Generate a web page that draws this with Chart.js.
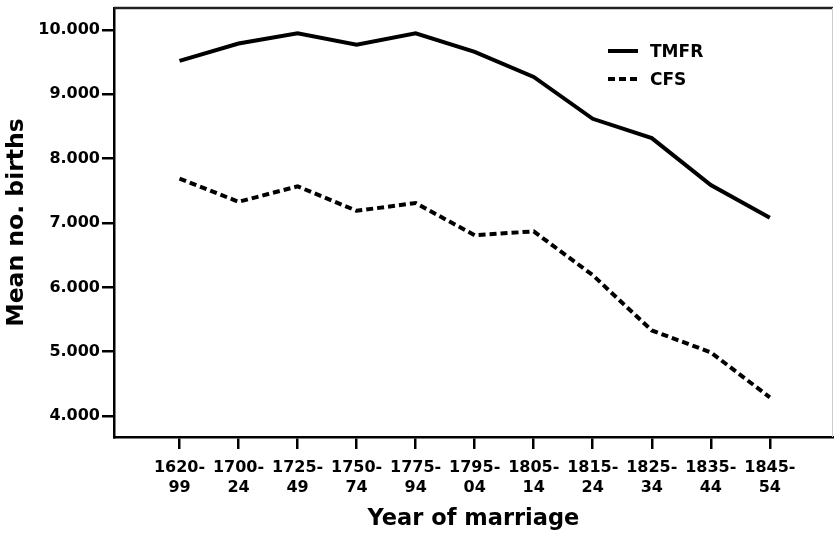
<!DOCTYPE html>
<html>
<head>
<meta charset="utf-8">
<script src="https://cdn.jsdelivr.net/npm/chart.js@4"></script>
<style>
  body { margin: 0; background: #fff; }
  canvas { display: block; }
</style>
</head>
<body>
<canvas id="chart" width="834" height="534"></canvas>
<script>
const periods = ["1620-\n99", "1700-\n24", "1725-\n49", "1750-\n74", "1775-\n94", "1795-\n04",
                 "1805-\n14", "1815-\n24", "1825-\n34", "1835-\n44", "1845-\n54"];
const tmfr = [9.52, 9.79, 9.95, 9.77, 9.95, 9.66, 9.27, 8.62, 8.32, 7.59, 7.08];
const cfs = [7.69, 7.33, 7.57, 7.19, 7.31, 6.81, 6.87, 6.19, 5.33, 4.99, 4.29];
const yTicks = [4, 5, 6, 7, 8, 9, 10];

const FONT = '"DejaVu Sans", sans-serif';

// frame lines + legend inside the plot
const framePlugin = {
  id: "frame",
  afterDraw(chart) {
    const { ctx, chartArea: a } = chart;
    ctx.save();
    ctx.strokeStyle = "#222";
    ctx.lineWidth = 2.5;
    ctx.beginPath();
    ctx.moveTo(a.left, a.top);
    ctx.lineTo(a.right, a.top);
    ctx.stroke();
    ctx.strokeStyle = "#ccc";
    ctx.lineWidth = 1;
    ctx.beginPath();
    ctx.moveTo(a.right - 0.5, a.top);
    ctx.lineTo(a.right - 0.5, a.bottom);
    ctx.stroke();

    chart.data.datasets.forEach((ds, i) => {
      const y = a.top + 43 + i * 28;
      ctx.strokeStyle = "#000";
      ctx.lineWidth = ds.borderWidth;
      ctx.setLineDash(ds.borderDash || []);
      ctx.beginPath();
      ctx.moveTo(608, y);
      ctx.lineTo(638, y);
      ctx.stroke();
      ctx.setLineDash([]);
      ctx.fillStyle = "#000";
      ctx.font = "bold 17px " + FONT;
      ctx.textBaseline = "middle";
      ctx.fillText(ds.label, 650, y + 2);
    });
    ctx.restore();
  }
};

new Chart(document.getElementById("chart"), {
  type: "line",
  data: {
    datasets: [
      {
        label: "TMFR",
        data: tmfr.map((v, i) => ({ x: i, y: v })),
        borderColor: "#000",
        borderWidth: 4,
        pointRadius: 0,
        tension: 0
      },
      {
        label: "CFS",
        data: cfs.map((v, i) => ({ x: i, y: v })),
        borderColor: "#000",
        borderWidth: 4,
        borderDash: [7, 4],
        borderCapStyle: "butt",
        pointRadius: 0,
        tension: 0
      }
    ]
  },
  options: {
    responsive: false,
    animation: false,
    layout: { padding: { top: 8, right: 1, left: 0, bottom: 0 } },
    plugins: {
      legend: { display: false },
      tooltip: { enabled: false }
    },
    scales: {
      x: {
        type: "linear",
        min: -1.11,
        max: 11.07,
        afterBuildTicks: s => { s.ticks = periods.map((_, i) => ({ value: i })); },
        afterFit: s => { s.height = 97; s.paddingLeft = 0; s.paddingRight = 0; },
        border: { color: "#000", width: 2.5 },
        grid: { drawOnChartArea: false, color: "#000", lineWidth: 2.5, tickLength: 12 },
        ticks: {
          color: "#000",
          padding: 8,
          maxRotation: 0,
          autoSkip: false,
          font: { family: FONT, weight: "bold", size: 16, lineHeight: 1.3 },
          callback: v => periods[v].split("\n")
        },
        title: {
          display: true,
          text: "Year of marriage",
          color: "#000",
          padding: { top: 0, bottom: 1 },
          font: { family: FONT, weight: "bold", size: 22.5 }
        }
      },
      y: {
        min: 3.674,
        max: 10.342,
        afterBuildTicks: s => { s.ticks = yTicks.map(v => ({ value: v })); },
        afterFit: s => { s.width = 114; s.paddingTop = 0; s.paddingBottom = 0; },
        border: { color: "#000", width: 2.5 },
        grid: { drawOnChartArea: false, color: "#000", lineWidth: 2.5, tickLength: 12 },
        ticks: {
          color: "#000",
          padding: 2,
          font: { family: FONT, weight: "bold", size: 16 },
          callback: v => v.toFixed(3)
        },
        title: {
          display: true,
          text: "Mean no. births",
          color: "#000",
          padding: { top: 2.5, bottom: 0 },
          font: { family: FONT, weight: "bold", size: 23.5 }
        }
      }
    }
  },
  plugins: [framePlugin]
});
</script>
</body>
</html>
